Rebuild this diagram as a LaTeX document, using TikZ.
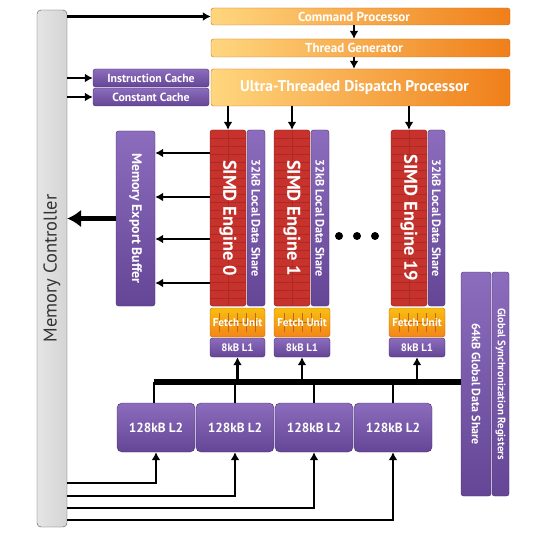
\documentclass[tikz,border=0pt]{standalone}
\usepackage{fontspec}
\setsansfont{PT Sans}
\usepackage{xcolor}
\usetikzlibrary{shapes,arrows,arrows.meta,positioning,calc}
\definecolor{cpurple}{HTML}{654596}
\definecolor{cpurpleL}{HTML}{8C6CBD}
\definecolor{cred}{HTML}{C8322C}
\definecolor{corange}{HTML}{EF7F1A}
\definecolor{cyellow}{HTML}{FFD67E}
\definecolor{cfetch}{HTML}{F2931C}
\definecolor{cgray}{HTML}{D4D4D4}
\newcommand{\fs}[1]{\fontsize{#1}{#1}\selectfont}

\begin{document}
\begin{tikzpicture}[x=1pt,y=-1pt,>={Latex[length=8pt,width=9pt]},
  blk/.style={rectangle, rounded corners=2.5pt, inner sep=0pt, text=white},
  orng/.style={blk, draw=corange!85!black, left color=cyellow, middle color=corange!75!cyellow, right color=corange, minimum width=299pt},
  prpl/.style={blk, draw=cpurple!70!black, top color=cpurpleL, bottom color=cpurple},
  simd/.style={blk, draw=cred!60!black, fill=cred, minimum width=36pt, minimum height=176pt,
    path picture={
      \foreach \k in {1,...,22}
        \draw[cred!85!black, line width=0.4pt] ([yshift=-\k*8pt]path picture bounding box.north west) -- ([yshift=-\k*8pt]path picture bounding box.north east);
      \draw[cred!85!black, line width=0.4pt] (path picture bounding box.north) -- (path picture bounding box.south);
    }},
  lds/.style={prpl, minimum width=18pt, minimum height=176pt},
  fetch/.style={blk, draw=corange!80!black, top color=cfetch!60!yellow, bottom color=cfetch!90!red, minimum height=29pt,
    path picture={
      \foreach \k in {-2,...,2}
        \draw[corange!80!black, line width=0.4pt] ([xshift=\k*9pt, yshift=-5pt]path picture bounding box.north) -- ([xshift=\k*9pt, yshift=5pt]path picture bounding box.south);
      \draw[corange!80!black, line width=0.4pt] ([xshift=-20pt]path picture bounding box.center) -- ([xshift=20pt]path picture bounding box.center);
    }},
  lone/.style={prpl, minimum height=19pt},
  ltwo/.style={prpl, rounded corners=5pt, minimum width=78pt, minimum height=49pt},
  link/.style={->, line width=2.2pt},
  wire/.style={line width=2.2pt}]
\useasboundingbox (0,0) rectangle (540,540);

% front end
\node[blk, draw=black!70, left color=cgray!60, right color=cgray, rounded corners=4pt, minimum width=30pt, minimum height=517pt, text=black!80] (mc) at (52,268.5) {\rotatebox{90}{\sffamily\fs{18.5}Memory Controller}};
\node[orng, minimum height=17pt] (cp) at (360.5,16.5) {\sffamily\bfseries\fs{13}Command Processor\hspace*{13pt}};
\node[orng, minimum height=18pt] (tg) at (360.5,48) {\sffamily\bfseries\fs{13}Thread Generator\hspace*{13pt}};
\node[orng, minimum height=37pt] (utdp) at (360.5,87.5) {\sffamily\bfseries\fs{15.5}Ultra-Threaded Dispatch Processor\hspace*{12pt}};
\node[prpl, minimum width=116pt, minimum height=18pt] (ic) at (151,78) {\sffamily\bfseries\fs{11.8}Instruction Cache};
\node[prpl, minimum width=116pt, minimum height=18pt] (cc) at (151,97) {\sffamily\bfseries\fs{11.8}Constant Cache};

% SIMD engines
\node[simd] (simd0) at (228,218) {\rotatebox{-90}{\sffamily\bfseries\fs{18.5}SIMD Engine 0}};
\node[lds] (lds0) at (256,218) {\rotatebox{-90}{\sffamily\bfseries\fs{12.2}32kB Local Data Share}};
\node[simd] (simd1) at (292,218) {\rotatebox{-90}{\sffamily\bfseries\fs{18.5}SIMD Engine 1}};
\node[lds] (lds1) at (320,218) {\rotatebox{-90}{\sffamily\bfseries\fs{12.2}32kB Local Data Share}};
\node[simd] (simd19) at (409,218) {\rotatebox{-90}{\sffamily\bfseries\fs{18.5}SIMD Engine 19}};
\node[lds, minimum width=17pt] (lds19) at (436.5,218) {\rotatebox{-90}{\sffamily\bfseries\fs{12.2}32kB Local Data Share}};
\node[circle, fill, inner sep=0pt, minimum size=8pt] (dot1) at (339,236) {};
\node[circle, fill, inner sep=0pt, minimum size=8pt] (dot2) at (357,236) {};
\node[circle, fill, inner sep=0pt, minimum size=8pt] (dot3) at (375,236) {};

\node[fetch, minimum width=55pt] (fu0) at (237.5,322.5) {\sffamily\bfseries\fs{11.3}Fetch Unit};
\node[lone, minimum width=55pt] (l1a) at (237.5,347.5) {\sffamily\bfseries\fs{10.8}8kB L1};
\node[fetch, minimum width=56pt] (fu1) at (302,322.5) {\sffamily\bfseries\fs{11.3}Fetch Unit};
\node[lone, minimum width=56pt] (l1b) at (302,347.5) {\sffamily\bfseries\fs{10.8}8kB L1};
\node[fetch, minimum width=56pt] (fu19) at (417,322.5) {\sffamily\bfseries\fs{11.3}Fetch Unit};
\node[lone, minimum width=56pt] (l1c) at (417,347.5) {\sffamily\bfseries\fs{10.8}8kB L1};

\node[prpl, minimum width=39pt, minimum height=175pt] (meb) at (135.5,218.5) {\rotatebox{-90}{\sffamily\bfseries\fs{13.8}Memory Export Buffer}};
\node[prpl, minimum width=30pt, minimum height=224pt] (gds) at (476,384) {\rotatebox{-90}{\sffamily\bfseries\fs{12}64kB Global Data Share}};
\node[prpl, minimum width=17pt, minimum height=224pt] (gsr) at (500.5,384) {\rotatebox{-90}{\sffamily\bfseries\fs{10.8}Global Synchronization Registers}};

% L2 caches
\node[ltwo] (l2a) at (156,427.5) {\sffamily\bfseries\fs{13.2}128kB L2};
\node[ltwo] (l2b) at (235,427.5) {\sffamily\bfseries\fs{13.2}128kB L2};
\node[ltwo] (l2c) at (314,427.5) {\sffamily\bfseries\fs{13.2}128kB L2};
\node[ltwo] (l2d) at (393,427.5) {\sffamily\bfseries\fs{13.2}128kB L2};

% connections
\draw[link] (mc.east |- cp) -- (cp.west);
\draw[link] (mc.east |- ic) -- (ic.west);
\draw[link] (mc.east |- cc) -- (cc.west);
\draw[->, line width=1.6pt] (cp.south -| 354,0) -- (tg.north -| 354,0);
\draw[->, line width=1.6pt] (tg.south -| 354,0) -- (utdp.north -| 354,0);
\draw[link] (utdp.south -| simd0.north) -- (simd0.north);
\draw[link] (utdp.south -| simd1.north) -- (simd1.north);
\draw[link] (utdp.south -| simd19.north) -- (simd19.north);
\foreach \yy in {153,197,239,283}
  \draw[link] (simd0.west |- 0,\yy) -- (meb.east |- 0,\yy);
\draw[-{Latex[length=14pt,width=18pt]}, line width=5pt] (meb.west) -- (mc.east |- meb.west);

\coordinate (bus) at (154,382);
\draw[line width=6pt] (bus) -- (gds.west |- bus);
\draw[wire] (bus) -- (bus |- l2a.north);
\draw[wire] (l2b.north |- bus) -- (l2b.north);
\draw[wire] (l2c.north |- bus) -- (l2c.north);
\draw[wire] (l2d.north |- bus) -- (l2d.north);
\draw[link] (l1a.south |- bus) -- (l1a.south);
\draw[link] (l1b.south |- bus) -- (l1b.south);
\draw[link] (l1c.south |- bus) -- (l1c.south);

\draw[link] (mc.east |- 0,483) -| (l2a.south);
\draw[link] (mc.east |- 0,496) -| (l2b.south);
\draw[link] (mc.east |- 0,508) -| (l2c.south);
\draw[link] (mc.east |- 0,520) -| (l2d.south);
\end{tikzpicture}
\end{document}
